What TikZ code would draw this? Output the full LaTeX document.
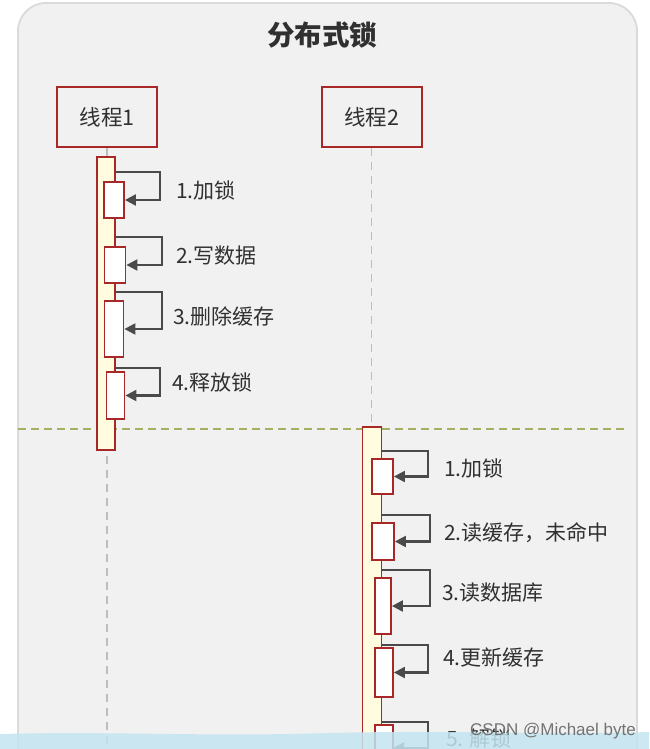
\documentclass[tikz,border=0pt]{standalone}
\usepackage{fontspec}
\setmainfont{Noto Sans CJK SC}
\newfontfamily\wmfont{Liberation Sans}
\usetikzlibrary{arrows.meta}
\definecolor{panelbg}{HTML}{F1F1F1}
\definecolor{panelrule}{HTML}{DADADA}
\definecolor{darkred}{HTML}{A82828}
\definecolor{barfill}{HTML}{FFFCE0}
\definecolor{linegrey}{HTML}{4A4A4A}
\definecolor{lifegrey}{HTML}{BDBDBD}
\definecolor{sepgreen}{HTML}{A8AE62}
\definecolor{txt}{HTML}{303030}
\definecolor{band}{HTML}{C2E5F1}
\begin{document}
\begin{tikzpicture}[x=1pt,y=-1pt,
  actor/.style={draw=darkred,line width=2pt,minimum width=100pt,minimum height=60pt,inner sep=0pt,font=\fontsize{21.5}{21.5}\selectfont,text=txt},
  actbar/.style={draw=darkred,line width=1.8pt,fill=barfill,inner sep=0pt,minimum width=18pt},
  actbox/.style={draw=darkred,line width=1.8pt,fill=white,inner sep=0pt},
  lifeline/.style={draw=lifegrey,line width=1.4pt,dash pattern=on 8pt off 6pt},
  msg/.style={draw=linegrey,line width=2.2pt,-{Triangle[length=11pt,width=11pt]}},
  lbl/.style={anchor=west,inner sep=0pt,text=txt,font=\fontsize{21}{21}\selectfont},
  sep/.style={draw=sepgreen,line width=1.6pt,dash pattern=on 8pt off 5pt}]
\useasboundingbox (0,0) rectangle (649,749);
\fill[white] (0,0) rectangle (649,749);
% panel
\draw[panelrule,line width=1.8pt,fill=panelbg,rounded corners=28pt] (18,3) -- (637,3) -- (637,800) -- (18,800) -- cycle;
% title
\node[font=\fontsize{27.5}{27.5}\selectfont\bfseries,text=txt] (title) at (322,35) {分布式锁};
% actors
\node[actor] (t1) at (107,117) {线程1};
\node[actor] (t2) at (371.5,117) {线程2};
% lifelines
\coordinate (l1end) at (107,749);
\coordinate (l2end) at (371.5,749);
\draw[lifeline] (t1.south) -- (l1end);
\draw[lifeline] (t2.south) -- (l2end);
% separator
\coordinate (sepL) at (18,429);
\coordinate (sepR) at (625,429);
\draw[sep] (sepL) -- (sepR);
% thread 1 bar
\node[actbar,minimum height=293pt] (bar1) at (106,303.5) {};
\node[actbox,minimum width=20pt,minimum height=36pt] (a1) at (114,200) {};
\node[actbox,minimum width=21pt,minimum height=36pt] (a2) at (115,265) {};
\node[actbox,minimum width=19pt,minimum height=56pt] (a3) at (114,329) {};
\node[actbox,minimum width=18pt,minimum height=47pt] (a4) at (115.5,395.5) {};
\foreach \n/\y/\x in {a1/172/160,a2/237/162,a3/292/162,a4/368/160}{
  \coordinate (s\n) at (115,\y);
  \draw[msg] (s\n) -- (\x,\y) |- (\n.east);
}
\node[lbl] (m1) at (176,190) {1.加锁};
\node[lbl] (m2) at (176,256) {2.写数据};
\node[lbl] (m3) at (173,316) {3.删除缓存};
\node[lbl] (m4) at (172,382) {4.释放锁};
% thread 2 bar
\node[actbar,minimum width=19pt,minimum height=340pt] (bar2) at (372,597) {};
\node[actbox,minimum width=21pt,minimum height=35pt] (c1) at (382.5,476.5) {};
\node[actbox,minimum width=22pt,minimum height=37pt] (c2) at (383,541.5) {};
\node[actbox,minimum width=16pt,minimum height=56pt] (c3) at (383,606) {};
\node[actbox,minimum width=18pt,minimum height=49pt] (c4) at (384,672.5) {};
\node[actbox,minimum width=18pt,minimum height=50pt] (c5) at (384,750) {};
\foreach \n/\y/\x in {c1/451/428,c2/515/430,c3/570/430,c4/645/428}{
  \coordinate (s\n) at (381.5,\y);
  \draw[msg] (s\n) -- (\x,\y) |- (\n.east);
}
\coordinate (sc5) at (381.5,722);
\draw[msg] (sc5) -- (428,722) -- (428,748) -- (393,748);
\node[lbl] (n1) at (444,468) {1.加锁};
\node[lbl] (n2) at (444,533) {2.读缓存，未命中};
\node[lbl] (n3) at (442,593) {3.读数据库};
\node[lbl] (n4) at (443,658) {4.更新缓存};
\node[lbl] (n5) at (446,738) {5. 解锁};
% bottom band with watermark
\fill[band,opacity=0.85] (0,734) .. controls (120,731) and (200,737) .. (330,733) .. controls (450,730) and (560,735) .. (649,732) -- (649,749) -- (0,749) -- cycle;
\node[anchor=east,inner sep=0pt,text=black!55,font=\wmfont\fontsize{17}{17}\selectfont] (wm) at (636,731) {CSDN @Michael byte};
\end{tikzpicture}
\end{document}
